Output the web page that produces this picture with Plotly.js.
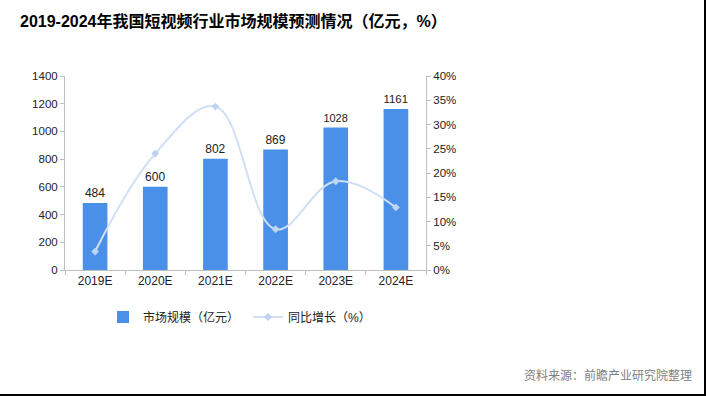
<!DOCTYPE html>
<html>
<head>
<meta charset="utf-8">
<script src="https://cdn.plot.ly/plotly-3.0.1.min.js"></script>
<style>
html,body{margin:0;padding:0;background:#fff;}
#chart{width:704px;height:394px;border-right:2px solid #000;border-bottom:2px solid #000;}
</style>
</head>
<body>
<div id="chart"></div>
<script>
const years = ['2019E','2020E','2021E','2022E','2023E','2024E'];
const marketSize = [484, 600, 802, 869, 1028, 1161];
const growthRate = [0.038, 0.240, 0.337, 0.084, 0.183, 0.129];
const sizeName = '市场规模（亿元）';
const growthName = '同比增长（%）';
const titleText = '2019-2024年我国短视频行业市场规模预测情况（亿元，%）';
const sourceText = '资料来源：前瞻产业研究院整理';

const FONT = 'Liberation Sans, Arial, Noto Sans CJK SC, sans-serif';

const traces = [
  {
    type: 'bar',
    name: sizeName,
    x: years,
    y: marketSize,
    width: 0.41,
    marker: {color: '#4a8fe8'},
    text: marketSize.map(String),
    textposition: 'outside',
    textfont: {family: FONT, size: 12, color: '#222'},
    cliponaxis: false,
    hoverinfo: 'skip'
  },
  {
    type: 'scatter',
    mode: 'lines+markers',
    name: growthName,
    x: years,
    y: growthRate,
    yaxis: 'y2',
    line: {color: '#cfe0f6', width: 2, shape: 'spline', smoothing: 1.1},
    marker: {symbol: 'diamond', size: 6, color: '#bcd3f1'},
    cliponaxis: false,
    hoverinfo: 'skip'
  }
];

const axisCommon = {
  showgrid: false,
  zeroline: false,
  showline: true,
  linecolor: '#bfbfbf',
  linewidth: 1,
  ticks: 'outside',
  ticklen: 4,
  tickcolor: '#bfbfbf',
  tickfont: {family: FONT, size: 11.5, color: '#222'}
};

const layout = {
  width: 704,
  height: 394,
  margin: {l: 65, r: 278, t: 76, b: 124},
  paper_bgcolor: '#fff',
  plot_bgcolor: '#fff',
  font: {family: FONT, color: '#222'},
  title: {
    text: '<b>' + titleText + '</b>',
    font: {family: FONT, size: 16, color: '#000'},
    xref: 'container', yref: 'container',
    x: 20/704, xanchor: 'left',
    y: 1 - 21/394, yanchor: 'middle'
  },
  xaxis: Object.assign({}, axisCommon, {
    type: 'category',
    tickson: 'boundaries',
    tickfont: {family: FONT, size: 12, color: '#222'}
  }),
  yaxis: Object.assign({}, axisCommon, {
    range: [0, 1400],
    dtick: 200
  }),
  yaxis2: Object.assign({}, axisCommon, {
    overlaying: 'y',
    side: 'right',
    range: [0, 0.4],
    dtick: 0.05,
    tickformat: '.0%'
  }),
  showlegend: true,
  legend: {
    orientation: 'h',
    x: (103 - 65) / 361, xanchor: 'left',
    y: (270 - 317) / 194, yanchor: 'middle',
    entrywidth: 100, entrywidthmode: 'pixels',
    itemwidth: 30,
    font: {family: FONT, size: 12, color: '#222'},
    bgcolor: 'rgba(0,0,0,0)'
  },
  annotations: [
    {
      text: sourceText,
      xref: 'paper', yref: 'paper',
      x: (694 - 65) / 361, xanchor: 'right',
      y: (270 - 375) / 194, yanchor: 'middle',
      showarrow: false,
      font: {family: FONT, size: 12, color: '#808080'}
    }
  ]
};

Plotly.newPlot('chart', traces, layout, {staticPlot: true, displayModeBar: false});
</script>
</body>
</html>
